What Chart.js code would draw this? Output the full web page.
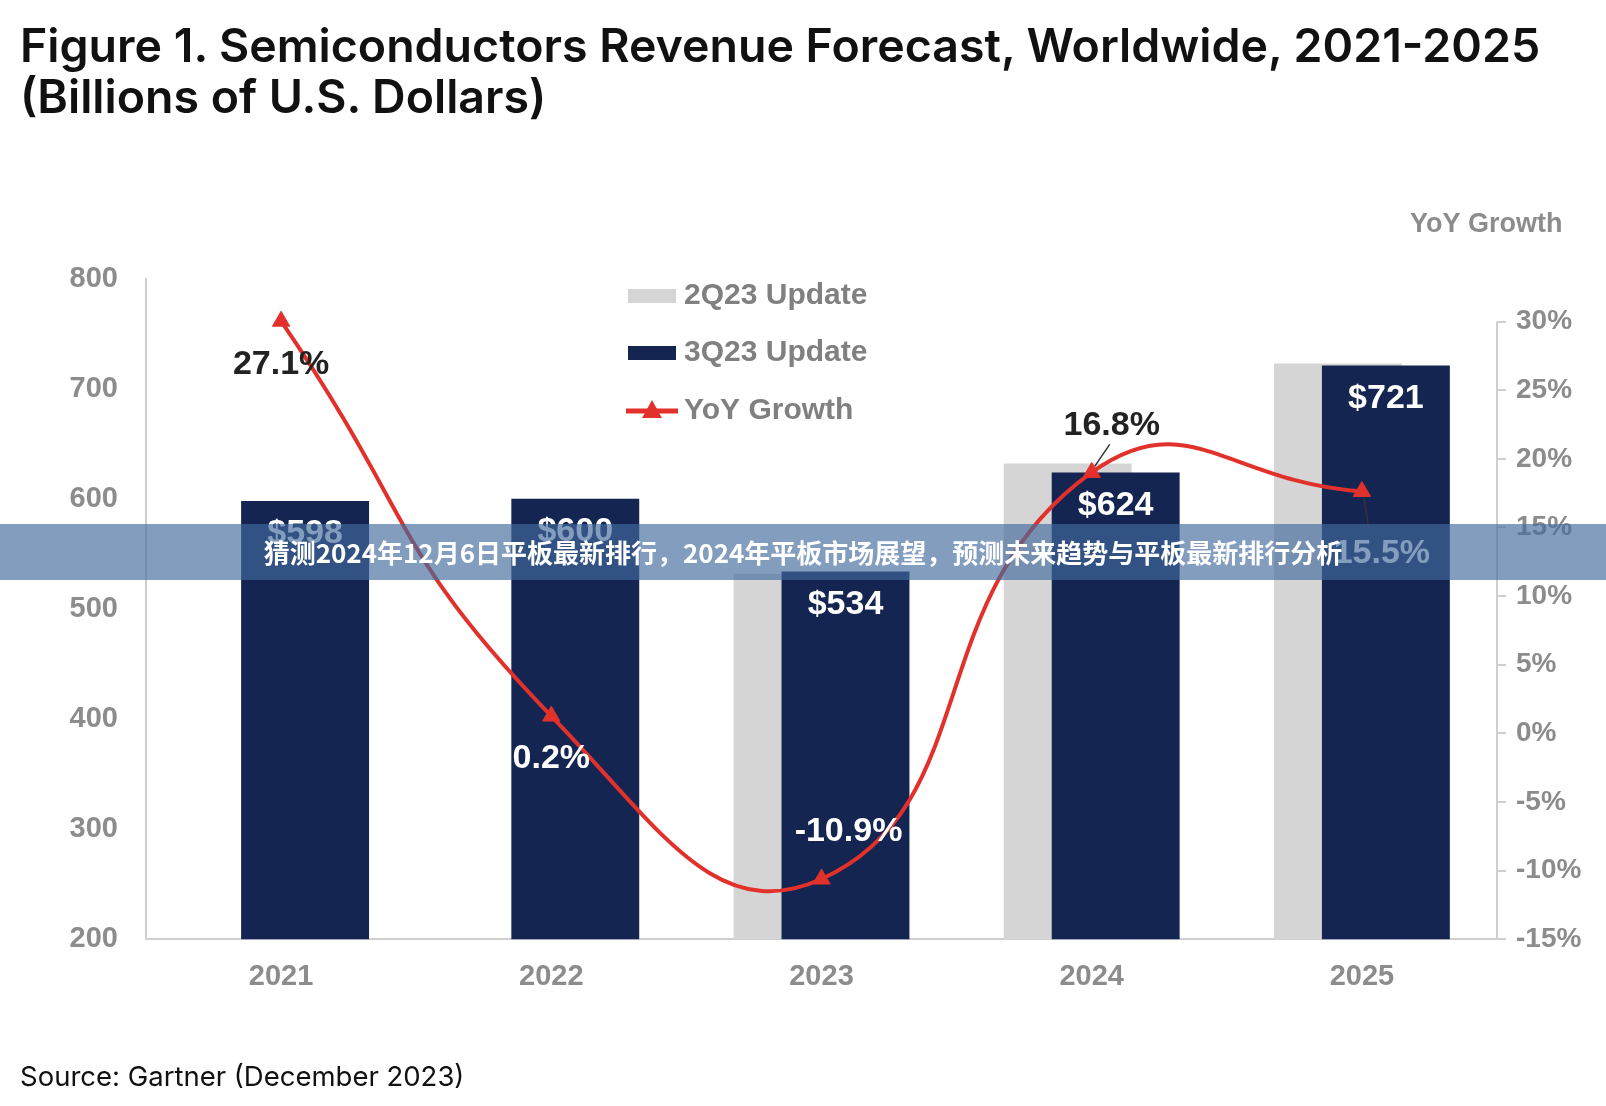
<!DOCTYPE html>
<html>
<head>
<meta charset="utf-8">
<script src="https://cdn.jsdelivr.net/npm/chart.js@4.4.0/dist/chart.umd.min.js"></script>
<style>
  html, body { margin: 0; padding: 0; background: #fff; }
  #wrap { position: relative; width: 1606px; height: 1106px; overflow: hidden; }
  #chart { position: absolute; left: 0; top: 0; }
  .title { position: absolute; left: 20px; top: 20px; font-family: Inter, sans-serif; font-weight: 600;
           font-size: 46.5px; line-height: 51px; color: #111; white-space: nowrap; }
  .source { position: absolute; left: 20px; top: 1061px; font-family: Inter, sans-serif; font-size: 27.5px;
            line-height: 30px; color: #111; }
  .banner { position: absolute; left: 0; top: 524px; width: 1606px; height: 56px; background: rgba(66, 106, 156, 0.66);
            color: #fff; font-family: "Noto Sans CJK SC", sans-serif; font-weight: 700; font-size: 26px;
            line-height: 56px; text-align: center; }
</style>
</head>
<body>
<div id="wrap">
  <canvas id="chart" width="1606" height="1106"></canvas>
  <div class="title">Figure 1. Semiconductors Revenue Forecast, Worldwide, 2021-2025<br>(Billions of U.S. Dollars)</div>
  <div class="source">Source: Gartner (December 2023)</div>
  <div class="banner">猜测2024年12月6日平板最新排行，2024年平板市场展望，预测未来趋势与平板最新排行分析</div>
</div>
<script>
var years = ['2021', '2022', '2023', '2024', '2025'];
var update2Q23 = [null, null, 532, 632, 723];
var update3Q23 = [598, 600, 534, 624, 721];
var yoyGrowth = [27.1, 0.2, -10.9, 16.8, 15.5];
var revenueTicks = [200, 300, 400, 500, 600, 700, 800];
var growthTicks = [-15, -10, -5, 0, 5, 10, 15, 20, 25, 30];

// where each growth label sits relative to its point, and its colour
var growthLabelOffsets = [[0, 43], [0, 43], [27, -47], [20, -47], [20, 62]];
var growthLabelColors = ['#222', '#fff', '#fff', '#222', '#fff'];

var NAVY = '#142551';
var GREY = '#d5d5d5';
var RED = '#e2312b';
var AXIS = '#cfcfcf';
var TICK = '#8c8c8c';

// draw grey bars first, navy on top, line last (clipped to the plot area)
var drawOrder = {
  id: 'drawOrder',
  beforeDatasetsDraw: function (chart) {
    var a = chart.chartArea;
    var c = chart.ctx;
    c.save();
    c.beginPath();
    c.rect(a.left, a.top - 20, a.right - a.left, a.bottom - a.top + 20);
    c.clip();
    [0, 1, 2].forEach(function (i) { chart.getDatasetMeta(i).controller.draw(); });
    c.restore();
    return false;
  }
};

var extras = {
  id: 'extras',
  afterDraw: function (chart) {
    var c = chart.ctx;
    var area = chart.chartArea;
    var g = chart.scales.y2;
    c.save();

    // right axis line only spans the labelled range
    c.strokeStyle = AXIS;
    c.lineWidth = 2;
    c.beginPath();
    c.moveTo(area.right, g.getPixelForValue(30));
    c.lineTo(area.right, area.bottom);
    c.stroke();

    c.textAlign = 'center';
    c.textBaseline = 'middle';

    // bar values
    c.font = 'bold 34px "Liberation Sans", Arial, sans-serif';
    c.fillStyle = '#fff';
    chart.getDatasetMeta(1).data.forEach(function (bar, i) {
      c.fillText('$' + update3Q23[i], bar.x, bar.y + 33);
    });

    // growth labels + leader lines
    var pts = chart.getDatasetMeta(2).data;
    c.strokeStyle = '#333';
    c.lineWidth = 1.5;
    c.beginPath();
    c.moveTo(pts[3].x + 18, pts[3].y - 28);
    c.lineTo(pts[3].x + 3, pts[3].y - 6);
    c.moveTo(pts[4].x + 2, pts[4].y + 6);
    c.lineTo(pts[4].x + 7, pts[4].y + 38);
    c.stroke();
    pts.forEach(function (pt, i) {
      c.fillStyle = growthLabelColors[i];
      c.fillText(yoyGrowth[i] + '%', pt.x + growthLabelOffsets[i][0], pt.y + growthLabelOffsets[i][1]);
    });

    // legend
    c.textAlign = 'left';
    c.font = 'bold 30px "Liberation Sans", Arial, sans-serif';
    var items = [
      { text: chart.data.datasets[0].label, color: GREY, y: 296 },
      { text: chart.data.datasets[1].label, color: NAVY, y: 353 },
      { text: chart.data.datasets[2].label, color: RED, y: 411, line: true }
    ];
    items.forEach(function (it) {
      if (it.line) {
        c.strokeStyle = it.color;
        c.lineWidth = 5;
        c.beginPath();
        c.moveTo(626, it.y);
        c.lineTo(678, it.y);
        c.stroke();
        c.fillStyle = it.color;
        c.beginPath();
        c.moveTo(652, it.y - 11);
        c.lineTo(662, it.y + 7);
        c.lineTo(642, it.y + 7);
        c.closePath();
        c.fill();
      } else {
        c.fillStyle = it.color;
        c.fillRect(628, it.y - 7, 48, 14);
      }
      c.fillStyle = '#808080';
      c.fillText(it.text, 684, it.y);
    });

    // secondary axis title
    c.font = 'bold 27px "Liberation Sans", Arial, sans-serif';
    c.fillStyle = TICK;
    c.fillText('YoY Growth', 1410, 225);
    c.restore();
  }
};

var tickFont = { family: '"Liberation Sans", Arial, sans-serif', size: 29, weight: 'bold' };

var ctx = document.getElementById('chart').getContext('2d');
var chart = new Chart(ctx, {
  type: 'bar',
  data: {
    labels: years,
    datasets: [
      {
        label: '2Q23 Update',
        data: update2Q23,
        backgroundColor: GREY,
        yAxisID: 'y',
        categoryPercentage: 0.355,
        barPercentage: 2.667
      },
      {
        label: '3Q23 Update',
        data: update3Q23,
        backgroundColor: NAVY,
        yAxisID: 'y',
        categoryPercentage: 0.355,
        barPercentage: 2.667
      },
      {
        type: 'line',
        label: 'YoY Growth',
        data: yoyGrowth,
        yAxisID: 'y1',
        borderColor: RED,
        borderWidth: 4,
        tension: 0.5,
        pointStyle: 'triangle',
        pointRadius: 10,
        pointBackgroundColor: RED,
        pointBorderColor: RED,
        pointBorderWidth: 1
      }
    ]
  },
  options: {
    responsive: false,
    animation: false,
    devicePixelRatio: 1,
    layout: { padding: { top: 278.6, left: 0, right: 0, bottom: 0 } },
    plugins: { legend: { display: false }, tooltip: { enabled: false } },
    scales: {
      x: {
        grid: { display: false, drawTicks: false },
        border: { display: true, color: AXIS, width: 2 },
        ticks: { font: tickFont, color: TICK, padding: 20 },
        afterFit: function (s) { s.height = 166.8; }
      },
      y: {
        position: 'left',
        min: 200,
        max: 800,
        grid: { display: false, drawTicks: false },
        border: { display: true, color: AXIS, width: 2 },
        ticks: { font: tickFont, color: TICK, padding: 28 },
        afterBuildTicks: function (s) { s.ticks = revenueTicks.map(function (v) { return { value: v }; }); },
        afterFit: function (s) { s.width = 146; }
      },
      y1: {
        position: 'right',
        display: false,
        min: -15,
        max: 30
      },
      y2: {
        position: 'right',
        min: -15,
        max: 33.13,
        grid: { display: true, drawOnChartArea: false, drawTicks: true, tickLength: 9, color: AXIS, lineWidth: 2 },
        border: { display: false },
        ticks: { font: { family: '"Liberation Sans", Arial, sans-serif', size: 28, weight: 'bold' }, color: TICK, padding: 10,
                 callback: function (v) { return v + '%'; } },
        afterBuildTicks: function (s) { s.ticks = growthTicks.map(function (v) { return { value: v }; }); },
        afterFit: function (s) { s.width = 109; }
      }
    }
  },
  plugins: [drawOrder, extras]
});
</script>
</body>
</html>
